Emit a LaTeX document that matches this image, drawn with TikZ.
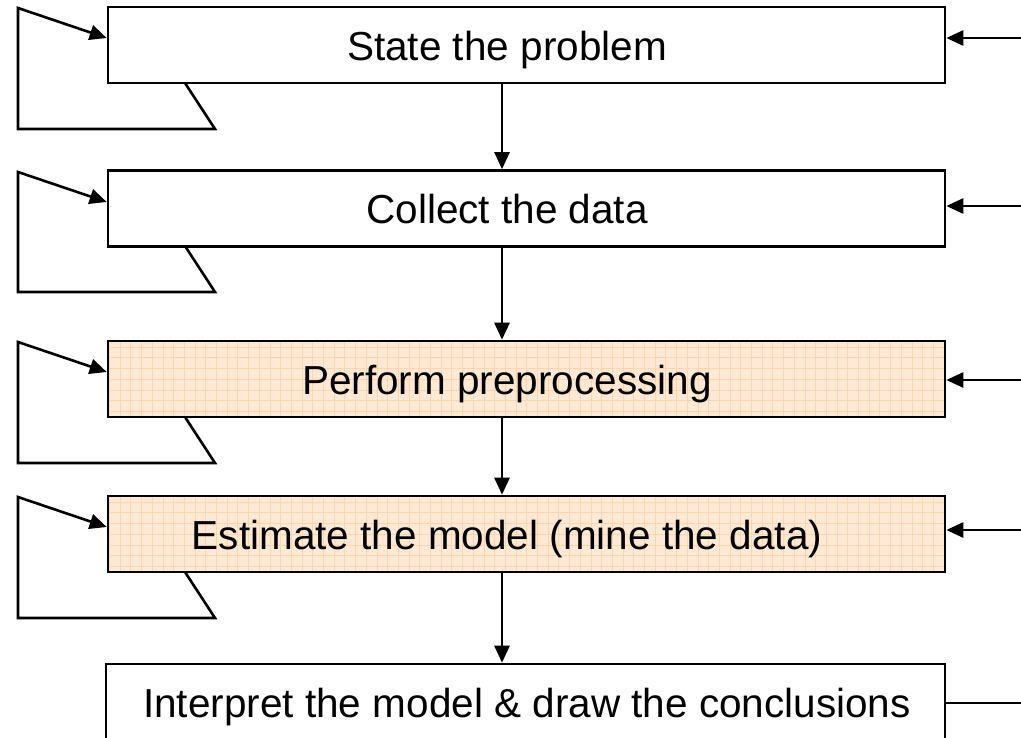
\documentclass[tikz,border=0pt]{standalone}
\usepackage{fontspec}
\setmainfont{Liberation Sans}
\usetikzlibrary{arrows.meta,calc}
\definecolor{peach}{RGB}{255,233,212}
\definecolor{gridc}{RGB}{252,214,178}
\begin{document}
\begin{tikzpicture}[x=1pt,y=-1pt,
  box/.style={draw, line width=2.6pt, minimum width=837pt, minimum height=76pt, inner sep=0pt},
  hl/.style={box, fill=peach, path picture={\draw[gridc, line width=0.4pt] (path picture bounding box.south west) grid[step=10.7pt] (path picture bounding box.north east);}},
  lbl/.style={anchor=base, font=\fontsize{40.5pt}{44pt}\selectfont, inner sep=0pt},
  arr/.style={-{Triangle[length=17pt,width=15pt]}, line width=2.6pt},
  ln/.style={line width=2.6pt}]
\useasboundingbox (0,0) rectangle (1021,737);
\clip (0,0) rectangle (1021,737);
% boxes
\node[box] (b1) at (526.5,45) {};
\node[box] (b2) at (526.5,208.5) {};
\node[hl]  (b3) at (526.5,379) {};
\node[hl]  (b4) at (526.5,534) {};
\node[box, minimum width=839pt] (b5) at (525.5,702) {};
% texts
\node[lbl] (t1) at (507,60) {State the problem};
\node[lbl] (t2) at (507,223.5) {Collect the data};
\node[lbl] (t3) at (507,394) {Perform preprocessing};
\node[lbl] (t4) at (507,549) {Estimate the model (mine the data)};
\node[lbl] (t5) at (527,717) {Interpret the model \& draw the conclusions};
% vertical arrows
\coordinate (ax) at (502,0);
\draw[arr] (b1.south -| ax) -- (b2.north -| ax);
\draw[arr] (b2.south -| ax) -- (b3.north -| ax);
\draw[arr] (b3.south -| ax) -- (b4.north -| ax);
\draw[arr] (b4.south -| ax) -- (b5.north -| ax);
% right arrows
\coordinate (r1) at (1021,38);
\coordinate (r2) at (1021,206);
\coordinate (r3) at (1021,380);
\coordinate (r4) at (1021,530);
\coordinate (r5) at (1021,703);
\draw[arr] (r1) -- (b1.east |- r1);
\draw[arr] (r2) -- (b2.east |- r2);
\draw[arr] (r3) -- (b3.east |- r3);
\draw[arr] (r4) -- (b4.east |- r4);
\draw[ln] (r5) -- (b5.east |- r5);
% left feedback loops
\foreach \b/\T/\B in {b1/7/83, b2/171/246, b3/341/417, b4/496/572}{
  \coordinate (\b s) at (185,\B);
  \coordinate (\b c1) at (215,\B+46);
  \coordinate (\b c2) at (18,\B+46);
  \coordinate (\b c3) at (18,\T+1);
  \coordinate (\b e) at (100,\T+31);
  \draw[arr, line join=miter] (\b s) -- (\b c1) -- (\b c2) -- (\b c3) -- (\b.west |- \b e);
}
\end{tikzpicture}
\end{document}
